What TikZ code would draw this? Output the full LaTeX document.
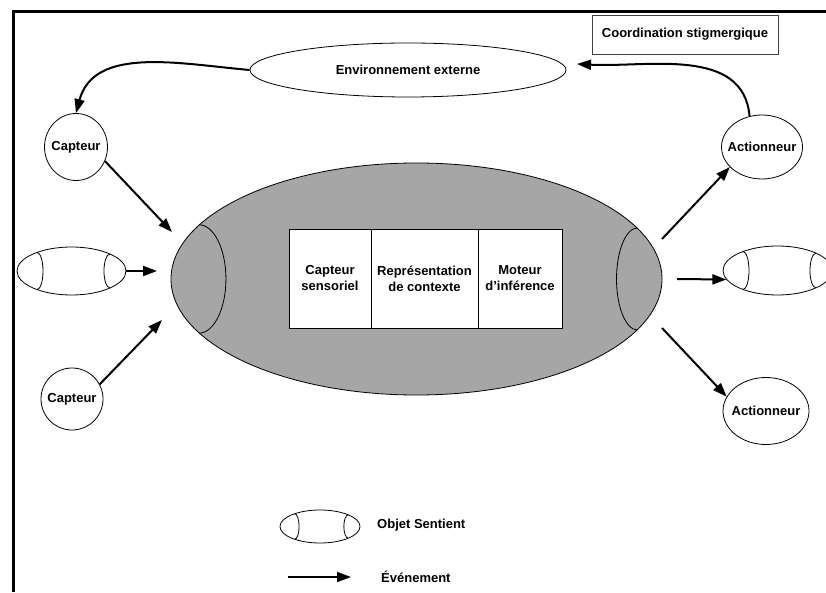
\documentclass[tikz,border=0pt]{standalone}
\usepackage{fontspec}
\setmainfont{Liberation Sans}
\usetikzlibrary{arrows.meta, shapes.geometric, positioning}
\usepackage{xcolor}
\definecolor{agentgray}{RGB}{166,166,166}
\definecolor{boxgray}{RGB}{64,64,64}
\tikzset{capteurnode/.style={ellipse, draw=black, line width=0.8pt, fill=white, inner sep=0pt},
objetnode/.style={ellipse, draw=black, line width=0.8pt, fill=white, inner sep=0pt, minimum width=109pt, minimum height=48pt},
boitenode/.style={rectangle, draw=black, line width=0.8pt, fill=white, inner sep=0pt, outer sep=0pt, minimum height=99pt, align=center},
evenement/.style={-{Triangle[length=14pt, width=10pt]}, line width=2pt}}

\begin{document}
\begin{tikzpicture}[font=\bfseries\fontsize{13}{16}\selectfont]
        \useasboundingbox (0pt, 0pt) rectangle (826pt, 592pt);
        % Frame
        \draw[line width=3pt] (826pt, 580pt) -- (13.5pt, 580pt) -- (13.5pt, 0pt);
        \node[rectangle, draw=boxgray, line width=0.8pt, minimum width=186pt, minimum height=39pt] (coord) at (685pt, 557.5pt) {Coordination stigmergique};
        % Environment, sensors and actuators
        \node[ellipse, draw=black, line width=0.8pt, inner sep=0pt, minimum width=316pt, minimum height=54pt] (env) at (408pt, 522pt) {Environnement externe};
        \node[capteurnode, minimum width=63pt, minimum height=67pt, label=center:Capteur] (capteurA) at (76pt, 445pt) {};
        \node[capteurnode, minimum width=62pt, minimum height=62pt, label=center:Capteur] (capteurB) at (72pt, 193pt) {};
        \node[capteurnode, minimum width=81pt, minimum height=64pt, label=center:Actionneur] (actA) at (762pt, 445pt) {};
        \node[capteurnode, minimum width=86pt, minimum height=67pt, label=center:Actionneur] (actB) at (766pt, 181pt) {};
        % Sentient object
        \node[ellipse, draw=black, line width=0.8pt, fill=agentgray, inner sep=0pt, minimum width=491pt, minimum height=232pt] (agent) at (416.5pt, 313pt) {};
        \draw[line width=0.8pt] (agent.166) arc[start angle=90, end angle=-90, x radius=27pt, y radius=54.2pt];
        \draw[line width=0.8pt] (agent.13) arc[start angle=90, end angle=270, x radius=21pt, y radius=51pt];
        \node[boitenode, minimum width=107pt] (ctx) at (424.5pt, 313.5pt) {Représentation\\de contexte};
        \node[boitenode, minimum width=82pt, left=0pt of ctx] (capsens) {Capteur\\sensoriel};
        \node[boitenode, minimum width=84pt, right=0pt of ctx] (moteur) {Moteur\\d’inférence};
        % Other sentient objects
        \node[objetnode] (objL) at (71.5pt, 321pt) {};
        \node[objetnode, minimum height=49pt] (objR) at (777.5pt, 321.5pt) {};
        \node[objetnode, minimum width=80pt, minimum height=33pt] (legobj) at (320pt, 65.5pt) {};
        \foreach \obj/\rx/\ry in {objL/54.5/24, objR/54.5/24.5, legobj/40/16.5} {
            \begin{scope}[shift={(\obj.center)}]
                \draw[line width=0.8pt] (-0.633*\rx pt, 0.774*\ry pt) arc[start angle=90, end angle=-90, x radius=0.11*\rx pt, y radius=0.774*\ry pt];
                \draw[line width=0.8pt] (0.706*\rx pt, 0.708*\ry pt) arc[start angle=90, end angle=270, x radius=0.11*\rx pt, y radius=0.708*\ry pt];
            \end{scope}
        }
        % Events
        \coordinate (inA) at (172pt, 360pt);
        \coordinate (inB) at (157pt, 321pt);
        \coordinate (inC) at (162pt, 272pt);
        \coordinate (outA) at (662pt, 353pt);
        \coordinate (outB) at (677pt, 313pt);
        \coordinate (outC) at (662pt, 264pt);
        \coordinate (envin) at (577pt, 528pt);
        \draw[evenement] (env.west) to[out=175, in=75] (capteurA.north);
        \draw[evenement] (actA.112) to[out=95, in=-3] (envin);
        \draw[evenement] (capteurA.-26) -- (inA);
        \draw[evenement] (objL.east) -- (inB);
        \draw[evenement] (capteurB.28) -- (inC);
        \draw[evenement] (outA) -- (actA.212);
        \draw[evenement] (outB) -- (objR.190);
        \draw[evenement] (outC) -- (actB.160);
        % Legend
        \node[anchor=west, inner sep=0pt] (objlabel) at (377pt, 67pt) {Objet Sentient};
        \node[anchor=west, inner sep=0pt] (evtlabel) at (381pt, 15pt) {Événement};
        \coordinate (legA) at (288pt, 15pt);
        \coordinate (legB) at (351pt, 15pt);
        \draw[evenement] (legA) -- (legB);
\end{tikzpicture}
\end{document}
